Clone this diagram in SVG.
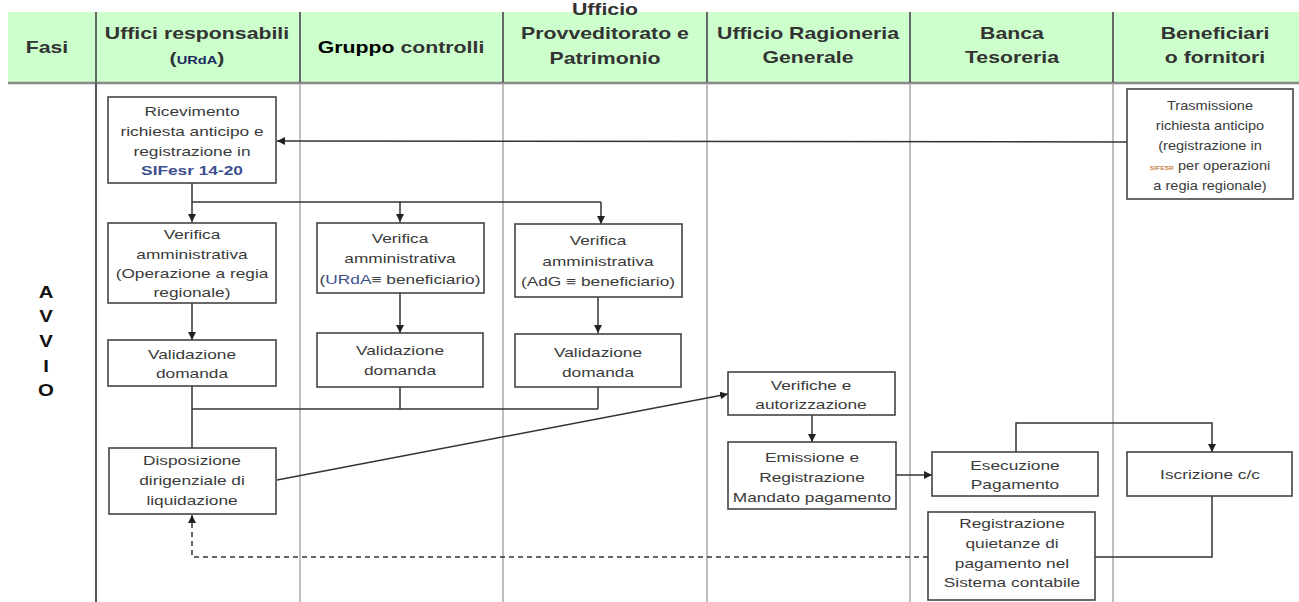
<svg xmlns="http://www.w3.org/2000/svg" width="1299" height="602" viewBox="0 0 1299 602">
<defs>
<marker id="ah" viewBox="0 0 10 10" refX="10" refY="5" markerWidth="8" markerHeight="8" markerUnits="userSpaceOnUse" orient="auto">
<path d="M0,0 L10,5 L0,10 z" fill="#222"/>
</marker>
<style>
.hdr{fill:#ccffcc}
.hl{stroke:#666;stroke-width:2;fill:none}
.cl{stroke:#aaa;stroke-width:1.5;fill:none}
.cl0{stroke:#555;stroke-width:2;fill:none}
.box{fill:#fff;stroke:#444;stroke-width:1.6}
.t{font-family:"Liberation Sans",Arial,sans-serif;font-size:13px;fill:#3a3a3a;text-anchor:middle}
.h{font-family:"Liberation Sans",Arial,sans-serif;font-size:16px;font-weight:bold;fill:#333;text-anchor:middle}
.av{font-family:"Liberation Sans",Arial,sans-serif;font-size:17px;font-weight:bold;fill:#111;text-anchor:middle}
.c{stroke:#333;stroke-width:1.5;fill:none}
.ca{stroke:#333;stroke-width:1.5;fill:none;marker-end:url(#ah)}
.cd{stroke:#333;stroke-width:1.5;fill:none;stroke-dasharray:5,4;marker-end:url(#ah)}
.blue{fill:#3d4f8f;font-weight:bold}
</style>
</defs>
<rect width="1299" height="602" fill="#fff"/>
<!-- header -->
<g id="header">
<rect class="hdr" x="8" y="12" width="1291" height="71"/>
<line x1="8" y1="83" x2="1299" y2="83" stroke="#888" stroke-width="2.5"/>
<line class="hl" x1="96" y1="12" x2="96" y2="83"/>
<line class="hl" x1="300" y1="12" x2="300" y2="83"/>
<line class="hl" x1="503" y1="12" x2="503" y2="83"/>
<line class="hl" x1="707" y1="12" x2="707" y2="83"/>
<line class="hl" x1="910" y1="12" x2="910" y2="83"/>
<line class="hl" x1="1113" y1="12" x2="1113" y2="83"/>
<text class="h" transform="translate(47,53) scale(1.33,1)">Fasi</text>
<text class="h" transform="translate(197,39) scale(1.33,1)">Uffici responsabili</text>
<text class="h" transform="translate(197,64) scale(1.33,1)">(<tspan font-size="11" fill="#1c2b5e">URdA</tspan>)</text>
<text class="h" transform="translate(401,53) scale(1.33,1)"><tspan fill="#000" font-weight="900">Gruppo</tspan>  controlli</text>
<text class="h" transform="translate(605,15) scale(1.33,1)">Ufficio</text>
<text class="h" transform="translate(605,39) scale(1.33,1)">Provveditorato e</text>
<text class="h" transform="translate(605,64) scale(1.33,1)">Patrimonio</text>
<text class="h" transform="translate(808,39) scale(1.33,1)">Ufficio Ragioneria</text>
<text class="h" transform="translate(808,63) scale(1.33,1)">Generale</text>
<text class="h" transform="translate(1012,39) scale(1.33,1)">Banca</text>
<text class="h" transform="translate(1012,63) scale(1.33,1)">Tesoreria</text>
<text class="h" transform="translate(1215,39) scale(1.33,1)">Beneficiari</text>
<text class="h" transform="translate(1215,63) scale(1.33,1)">o fornitori</text>
</g>
<!-- lanes -->
<g id="lanes">
<line class="cl0" x1="96" y1="83" x2="96" y2="602"/>
<line class="cl" x1="300" y1="83" x2="300" y2="602"/>
<line class="cl" x1="503" y1="83" x2="503" y2="602"/>
<line class="cl" x1="707" y1="83" x2="707" y2="602"/>
<line class="cl" x1="910" y1="83" x2="910" y2="602"/>
<line class="cl" x1="1113" y1="83" x2="1113" y2="602"/>
</g>
<g id="fase-avvio">
<text class="av" transform="translate(46,298) scale(1.2,1)">A</text>
<text class="av" transform="translate(46,322) scale(1.2,1)">V</text>
<text class="av" transform="translate(46,347) scale(1.2,1)">V</text>
<text class="av" transform="translate(46,372) scale(1.2,1)">I</text>
<text class="av" transform="translate(46,396) scale(1.2,1)">O</text>
</g>
<!-- connectors -->
<g id="connectors">
<path class="ca" d="M1127,142 L277,141"/>
<path class="ca" d="M192,183 L192,222"/>
<path class="c" d="M192,202 L601,202"/>
<path class="ca" d="M400,202 L400,222"/>
<path class="ca" d="M601,202 L601,224"/>
<path class="ca" d="M192,303 L192,340"/>
<path class="ca" d="M400,293 L400,333"/>
<path class="ca" d="M598,297 L598,333"/>
<path class="c" d="M192,386 L192,448"/>
<path class="c" d="M192,409 L598,409"/>
<path class="c" d="M400,387 L400,409"/>
<path class="c" d="M598,387 L598,409"/>
<path class="ca" d="M277,480 L728,394"/>
<path class="ca" d="M812,415 L812,442"/>
<path class="ca" d="M896,475 L932,475"/>
<path class="ca" d="M1016,452 L1016,423 L1212,423 L1212,452"/>
<path class="c" d="M1212,496 L1212,557 L1095,557"/>
<path class="cd" d="M928,557 L192,557 L192,515"/>
</g>
<!-- nodes -->
<g id="n-trasmissione">
<rect class="box" x="1127" y="89" width="166" height="110"/>
<text class="t" transform="translate(1210,110) scale(1.12,1)">Trasmissione</text>
<text class="t" transform="translate(1210,130) scale(1.12,1)">richiesta anticipo</text>
<text class="t" transform="translate(1210,150) scale(1.12,1)">(registrazione in</text>
<text class="t" transform="translate(1210,170) scale(1.12,1)"><tspan font-size="6" fill="#c9864a" font-weight="bold">SIFESR</tspan> per operazioni</text>
<text class="t" transform="translate(1210,190) scale(1.12,1)">a regia regionale)</text>
</g>
<g id="n-ricevimento">
<rect class="box" x="108" y="97" width="168" height="86"/>
<text class="t" transform="translate(192,116) scale(1.33,1)">Ricevimento</text>
<text class="t" transform="translate(192,136) scale(1.33,1)">richiesta anticipo e</text>
<text class="t" transform="translate(192,156) scale(1.33,1)">registrazione in</text>
<text class="t" transform="translate(192,175) scale(1.33,1)"><tspan class="blue">SIFesr 14-20</tspan></text>
</g>
<g id="n-verifica1">
<rect class="box" x="108" y="223" width="168" height="80"/>
<text class="t" transform="translate(192,239) scale(1.33,1)">Verifica</text>
<text class="t" transform="translate(192,259) scale(1.33,1)">amministrativa</text>
<text class="t" transform="translate(192,278) scale(1.33,1)">(Operazione a regia</text>
<text class="t" transform="translate(192,297) scale(1.33,1)">regionale)</text>
</g>
<g id="n-verifica2">
<rect class="box" x="317" y="223" width="167" height="70"/>
<text class="t" transform="translate(400,243) scale(1.33,1)">Verifica</text>
<text class="t" transform="translate(400,263) scale(1.33,1)">amministrativa</text>
<text class="t" transform="translate(400,284) scale(1.33,1)">(<tspan fill="#3d4f8f">URdA</tspan>≡ beneficiario)</text>
</g>
<g id="n-verifica3">
<rect class="box" x="515" y="224" width="167" height="73"/>
<text class="t" transform="translate(598,245) scale(1.33,1)">Verifica</text>
<text class="t" transform="translate(598,266) scale(1.33,1)">amministrativa</text>
<text class="t" transform="translate(598,286) scale(1.33,1)">(AdG ≡ beneficiario)</text>
</g>
<g id="n-validazione1">
<rect class="box" x="108" y="340" width="168" height="46"/>
<text class="t" transform="translate(192,359) scale(1.33,1)">Validazione</text>
<text class="t" transform="translate(192,378) scale(1.33,1)">domanda</text>
</g>
<g id="n-validazione2">
<rect class="box" x="317" y="333" width="166" height="54"/>
<text class="t" transform="translate(400,355) scale(1.33,1)">Validazione</text>
<text class="t" transform="translate(400,375) scale(1.33,1)">domanda</text>
</g>
<g id="n-validazione3">
<rect class="box" x="515" y="334" width="166" height="53"/>
<text class="t" transform="translate(598,357) scale(1.33,1)">Validazione</text>
<text class="t" transform="translate(598,377) scale(1.33,1)">domanda</text>
</g>
<g id="n-disposizione">
<rect class="box" x="109" y="448" width="167" height="66"/>
<text class="t" transform="translate(192,465) scale(1.33,1)">Disposizione</text>
<text class="t" transform="translate(192,485) scale(1.33,1)">dirigenziale di</text>
<text class="t" transform="translate(192,505) scale(1.33,1)">liquidazione</text>
</g>
<g id="n-verifiche">
<rect class="box" x="728" y="372" width="167" height="43"/>
<text class="t" transform="translate(811,390) scale(1.33,1)">Verifiche e</text>
<text class="t" transform="translate(811,409) scale(1.33,1)">autorizzazione</text>
</g>
<g id="n-emissione">
<rect class="box" x="728" y="442" width="168" height="67"/>
<text class="t" transform="translate(812,462) scale(1.33,1)">Emissione e</text>
<text class="t" transform="translate(812,482) scale(1.33,1)">Registrazione</text>
<text class="t" transform="translate(812,502) scale(1.33,1)">Mandato pagamento</text>
</g>
<g id="n-esecuzione">
<rect class="box" x="932" y="452" width="166" height="44"/>
<text class="t" transform="translate(1015,470) scale(1.33,1)">Esecuzione</text>
<text class="t" transform="translate(1015,489) scale(1.33,1)">Pagamento</text>
</g>
<g id="n-iscrizione">
<rect class="box" x="1127" y="452" width="165" height="44"/>
<text class="t" transform="translate(1210,479) scale(1.33,1)">Iscrizione c/c</text>
</g>
<g id="n-registrazione">
<rect class="box" x="928" y="512" width="167" height="88"/>
<text class="t" transform="translate(1012,528) scale(1.33,1)">Registrazione</text>
<text class="t" transform="translate(1012,548) scale(1.33,1)">quietanze di</text>
<text class="t" transform="translate(1012,568) scale(1.33,1)">pagamento nel</text>
<text class="t" transform="translate(1012,587) scale(1.33,1)">Sistema contabile</text>
</g>
</svg>
